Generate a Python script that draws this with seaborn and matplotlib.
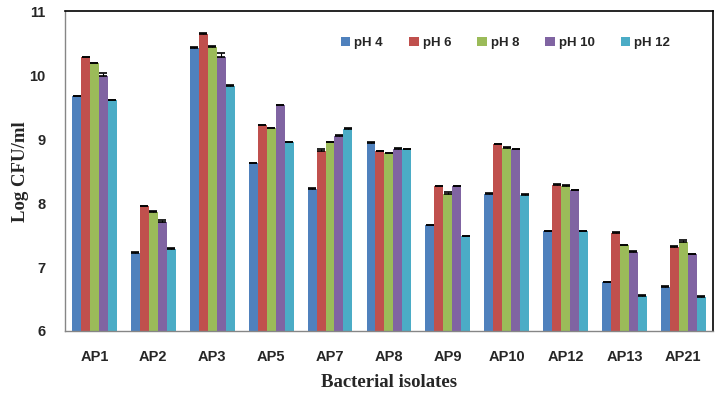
import matplotlib
matplotlib.use("Agg")
import matplotlib.pyplot as plt
import numpy as np
import pandas as pd
import seaborn as sns

# isolates and pH treatments
isolates = ["AP1", "AP2", "AP3", "AP5", "AP7", "AP8", "AP9", "AP10", "AP12", "AP13", "AP21"]
ph_levels = ["pH 4", "pH 6", "pH 8", "pH 10", "pH 12"]

# Log CFU/ml
ph4 = [9.67, 7.22, 10.43, 8.62, 8.22, 8.94, 7.65, 8.15, 7.56, 6.76, 6.69]
ph6 = [10.28, 7.95, 10.64, 9.22, 8.82, 8.81, 8.26, 8.92, 8.29, 7.53, 7.31]
ph8 = [10.19, 7.86, 10.45, 9.17, 8.95, 8.78, 8.15, 8.87, 8.27, 7.34, 7.39]
ph10 = [9.99, 7.71, 10.29, 9.53, 9.05, 8.85, 8.26, 8.84, 8.20, 7.24, 7.20]
ph12 = [9.61, 7.28, 9.83, 8.95, 9.16, 8.84, 7.48, 8.13, 7.56, 6.55, 6.53]

# standard errors (upper bars only)
err4 = [0.01, 0.02, 0.01, 0.01, 0.01, 0.01, 0.01, 0.01, 0.01, 0.01, 0.01]
err6 = [0.01, 0.01, 0.02, 0.01, 0.02, 0.01, 0.01, 0.01, 0.01, 0.01, 0.02]
err8 = [0.01, 0.01, 0.01, 0.01, 0.01, 0.01, 0.02, 0.01, 0.01, 0.01, 0.04]
err10 = [0.04, 0.02, 0.06, 0.01, 0.01, 0.02, 0.01, 0.01, 0.01, 0.01, 0.01]
err12 = [0.01, 0.01, 0.02, 0.01, 0.01, 0.01, 0.01, 0.02, 0.01, 0.01, 0.02]

colors = ["#4F81BD", "#C0504D", "#9BBB59", "#8064A2", "#4BACC6"]

vals = [ph4, ph6, ph8, ph10, ph12]
errs = [err4, err6, err8, err10, err12]
df = pd.DataFrame({
    "isolate": isolates * 5,
    "ph": np.repeat(ph_levels, len(isolates)),
    "value": np.concatenate(vals),
})

sns.set_style("white")
plt.rcParams['font.family'] = ['Liberation Sans', 'DejaVu Sans']

fig, ax = plt.subplots(figsize=(7.2, 3.93), dpi=100)
fig.subplots_adjust(left=0.0903, right=0.990, bottom=0.158, top=0.971)

sns.barplot(data=df, x="isolate", y="value", hue="ph", palette=colors,
            width=0.76, gap=0, saturation=1, errorbar=None, ax=ax, linewidth=0)

for cont, e in zip(ax.containers, errs):
    xs = [p.get_x() + p.get_width() / 2 for p in cont]
    hs = [p.get_height() for p in cont]
    ax.errorbar(xs, hs, yerr=[np.zeros(len(e)), e], fmt="none", ecolor="black",
                elinewidth=0.8, capsize=2.9, capthick=1.2)

ax.set_ylim(6, 11)
ax.set_xlim(-0.5, len(isolates) - 0.5)
ax.set_yticks([6, 7, 8, 9, 10, 11])
ax.set_yticklabels(["6", "7", "8", "9", "10", "11"], fontweight="bold", fontsize=10.5)
ax.set_xticks(np.arange(len(isolates)))
ax.set_xticklabels(isolates, fontweight="bold", fontsize=10.5)
ax.tick_params(axis="x", length=0, pad=14)
ax.set_xticks(np.arange(len(isolates) + 1) - 0.5, minor=True)
ax.tick_params(axis="x", which="minor", length=5, color="#868686", width=1, direction="out")
ax.tick_params(axis="y", length=5, color="#868686", width=1, direction="out", pad=9)

for s in ["left", "bottom"]:
    ax.spines[s].set_color("#868686")
    ax.spines[s].set_linewidth(1)
for s in ["top", "right"]:
    ax.spines[s].set_color("black")
    ax.spines[s].set_linewidth(1.2)

ax.set_xlabel("Bacterial isolates", fontfamily="Liberation Serif", fontweight="bold", fontsize=13.5, labelpad=7)
ax.set_ylabel("Log CFU/ml", fontfamily="Liberation Serif", fontweight="bold", fontsize=13.5)
ax.yaxis.set_label_coords(-0.055, 0.5)

ax.legend(title=None, ncol=5, frameon=False, loc="center left", bbox_to_anchor=(0.408, 0.90),
          prop={"weight": "bold", "size": 9.5}, handlelength=0.7, handleheight=0.7,
          handletextpad=0.3, columnspacing=2.0)

plt.savefig("out.png", dpi=100)
